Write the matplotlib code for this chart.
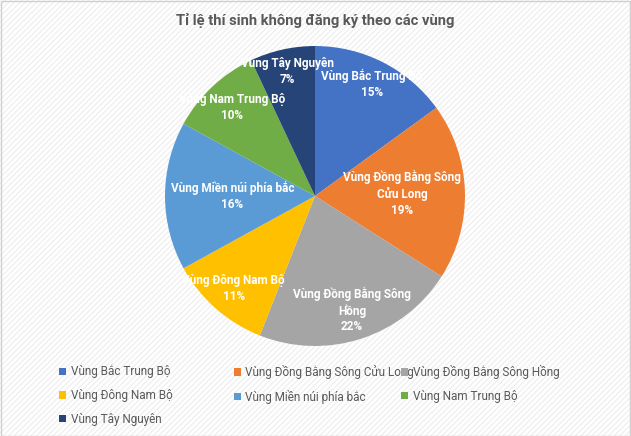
import numpy as np
import matplotlib
matplotlib.use("Agg")
import matplotlib.pyplot as plt
from matplotlib.patches import Rectangle

plt.rcParams['font.family'] = ['Roboto', 'DejaVu Sans']

# data
regions = ['Vùng Bắc Trung Bộ', 'Vùng Đồng Bằng Sông Cửu Long', 'Vùng Đồng Bằng Sông Hồng',
           'Vùng Đông Nam Bộ', 'Vùng Miền núi phía bắc', 'Vùng Nam Trung Bộ', 'Vùng Tây Nguyên']
label_text = ['Vùng Bắc Trung Bộ', 'Vùng Đồng Bằng Sông\nCửu Long', 'Vùng Đồng Bằng Sông\nHồng',
              'Vùng Đông Nam Bộ', 'Vùng Miền núi phía bắc', 'Vùng Nam Trung Bộ', 'Vùng Tây Nguyên']
shares = [15, 19, 22, 11, 16, 10, 7]
colors = ['#4472C4', '#ED7D31', '#A5A5A5', '#FFC000', '#5B9BD5', '#70AD47', '#264478']

# radial position of each data label (fraction of radius), like excel best fit
label_r = [0.84, 0.58, 0.80, 0.82, 0.55, 0.81, 0.85]

fig = plt.figure(figsize=(6.31, 4.36), dpi=100)
fig.patch.set_facecolor('white')
plt.rcParams['hatch.linewidth'] = 1.0
bg = Rectangle((0, 0), 1, 1, transform=fig.transFigure, facecolor='white',
               edgecolor='#f0f0f0', hatch='//////', linewidth=0, zorder=-10)
fig.patches.append(bg)
border = Rectangle((0.001, 0.001), 0.998, 0.997, transform=fig.transFigure, facecolor='none',
                   edgecolor='#d0d0d0', linewidth=1, zorder=-5)
fig.patches.append(border)

ax = fig.add_axes([0.2615, 0.2064, 0.4754, 0.6881])
wedges, _ = ax.pie(shares, colors=colors, startangle=90, counterclock=False, radius=1.0,
                   wedgeprops=dict(linewidth=0))
ax.set_xlim(-1, 1)
ax.set_ylim(-1, 1)
ax.set_aspect('equal')
ax.axis('off')

total = sum(shares)
for w, txt, v, r in zip(wedges, label_text, shares, label_r):
    ang = np.deg2rad((w.theta1 + w.theta2) / 2)
    ax.text(r * np.cos(ang), r * np.sin(ang), '%s\n%d%%' % (txt, round(100 * v / total)),
            ha='center', va='center', color='white', fontsize=8.5, fontweight='bold',
            linespacing=1.25)

fig.text(0.5, 0.953, 'Tỉ lệ thí sinh không đăng ký theo các vùng', ha='center', va='center',
         fontsize=10.6, fontweight='bold', color='#595959')

col_x = [0.094, 0.371, 0.636]
for c in range(3):
    leg = fig.legend(wedges[c::3], regions[c::3], loc='upper left',
                     bbox_to_anchor=(col_x[c], 0.163), frameon=False, fontsize=8.5,
                     handlelength=0.6, handleheight=0.6, handletextpad=0.35,
                     labelspacing=0.9, borderaxespad=0, borderpad=0)
    for t in leg.get_texts():
        t.set_color('#595959')

fig.savefig('out.png', dpi=100)
